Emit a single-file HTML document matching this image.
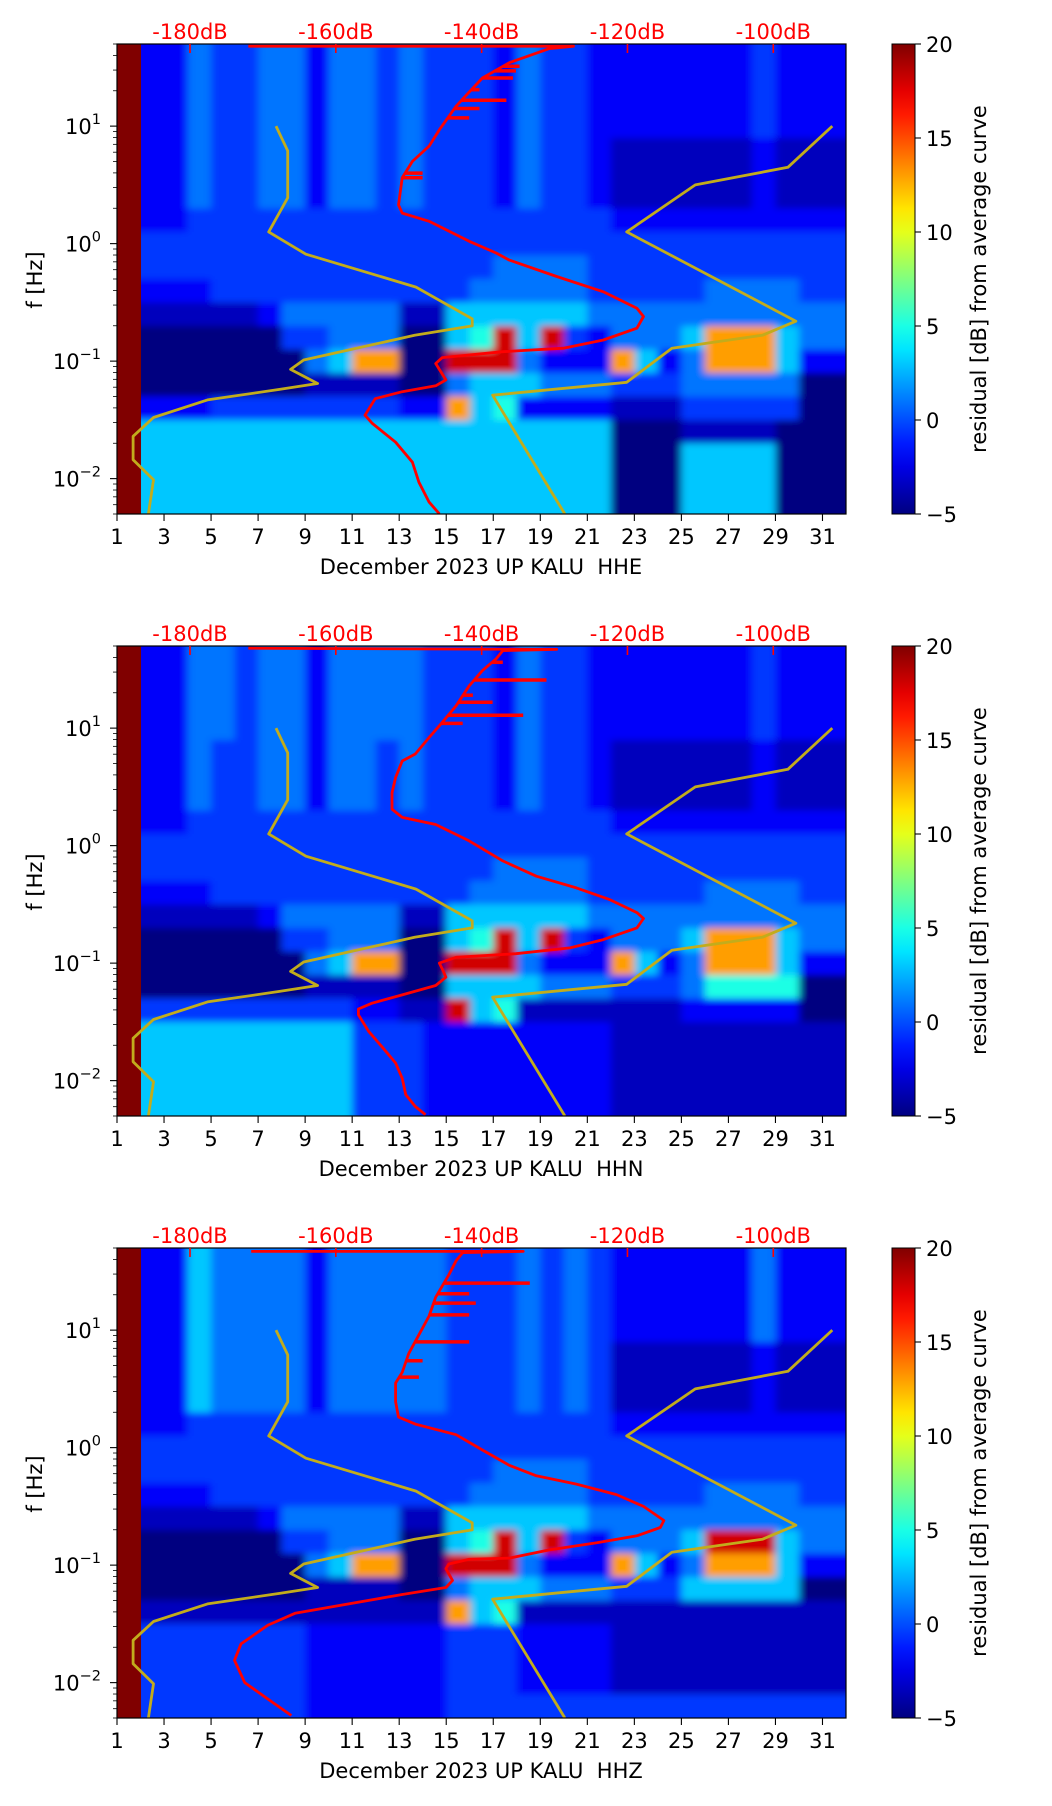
<!DOCTYPE html>
<html><head><meta charset="utf-8"><style>
html,body{margin:0;padding:0;background:#fff;}
svg{display:block;font-family:"DejaVu Sans","Liberation Sans",sans-serif;}
</style></head><body>
<svg id="fig" width="1052" height="1806" viewBox="0 0 1052 1806" xmlns="http://www.w3.org/2000/svg">
<rect x="0" y="0" width="1052" height="1806" fill="#fff"/>
</svg>
<script>
// ---------- data ----------
const panelNames = ["HHE", "HHN", "HHZ"];
const dayTicks = [1,3,5,7,9,11,13,15,17,19,21,23,25,27,29,31];
const dbTicks = [-180,-160,-140,-120,-100];
const dbTickLabels = ["-180dB","-160dB","-140dB","-120dB","-100dB"];
const decadeTicks = [1,0,-1,-2];
const decadeLabels = ["1","0","\u22121","\u22122"];
const cbTicks = [20,15,10,5,0,-5];
const cbTickLabels = ["20","15","10","5","0","\u22125"];
const levelValues = [-5,-3.5,-2,-0.5,1,3,5,9,13,18];

const heat1 = [
"X224334424434333243322222223222","X224334424434333243322222223222","X224334424434333243322222223222","X224334424434333243322222223222",
"X224334424434333243321111112111","X224334424434333243321111112111","X224334424434333243321111112111","X223333333333333333332222222222",
"X333333333333333333333333333333","X333333333333333444433333333333","X222333333333334444433333444433","X111112444441155555544444444444",
"X000000334440056959324445888544","X000000045880099942228524888522","X000000011110045554443334444400","X222333333332285622221113333300",
"X555555555555555555550001111000","X555555555555555555550005555000","X555555555555555555550005555000","X555555555555555555550005555000"];
const heat2 = [
"X224434424444333243322222223222","X224434424444333243322222223222","X224434424444333243322222223222","X224434424444333243322222223222",
"X224334424434333243321111112111","X224334424434333243321111112111","X224334424434333243321111112111","X223333333333333333332222222222",
"X333333333333333333333333333333","X333333333333333444433333333333","X222333333333334444433333444433","X111112444441155555544444444444",
"X000000334440056959324445888544","X000000045880099942228524888522","X000000011110055554443334666600","X333333333221195611111112222200",
"X555555555333222222221111111111","X555555555333222222221111111111","X555555555333222222221111111111","X555555555333222222221111111111"];
const heat3 = [
"X225444424444433343432222224222","X225444424444433343432222224222","X225444424444433343432222224222","X225444424444433343432222224222",
"X225444424444433343431111112111","X225444424444433343431111112111","X225444424444433343431111112111","X223333333333333333332222222222",
"X333333333333333333333333333333","X333333333333333444433333333333","X222333333333334444433333444433","X111112444441155555544444444444",
"X000000334440056959324445999544","X000000045880099942228524888522","X000000011110045554443335555500","X111111111111185611111111111111",
"X333333322222233322221111111111","X333333322222233322221111111111","X333333322222233322221111111111","X333333322222233333333333333333"];

// mean PSD curves (dB vs log10 f)
const red1Db = [-172.0,-127.4,-130.7,-136.2,-139.9,-141.7,-143.5,-145.8,-147.2,-149.5,-150.9,-151.4,-150.9,-147.2,-141.7,-138.0,-136.2,-129.7,-123.3,-118.7,-117.8,-118.7,-123.3,-128.8,-137.1,-145.4,-146.3,-144.9,-146.3,-150.9,-154.6,-156.0,-155.0,-151.8,-149.5,-148.6,-147.2,-145.8];
const red1Logf = [1.68,1.68,1.66,1.54,1.41,1.29,1.17,0.97,0.83,0.70,0.56,0.33,0.26,0.19,0.02,-0.08,-0.14,-0.28,-0.41,-0.55,-0.62,-0.72,-0.82,-0.89,-0.92,-0.97,-1.02,-1.16,-1.21,-1.26,-1.32,-1.46,-1.53,-1.69,-1.86,-2.03,-2.20,-2.30];
const spike1Logf = [1.51,1.47,1.41,1.31,1.22,1.15,1.07,0.60,0.56];
const spike1Db = [-134.8,-135.3,-135.7,-140.3,-136.6,-140.3,-141.7,-148.1,-148.1];

const red2Db = [-172.0,-129.7,-137.1,-138.0,-139.9,-141.7,-143.5,-145.4,-147.2,-149.1,-150.9,-151.8,-152.3,-152.3,-150.9,-146.3,-141.7,-137.1,-132.5,-127.0,-122.4,-118.7,-117.8,-118.7,-123.3,-127.9,-135.3,-143.5,-145.8,-145.4,-144.9,-146.3,-150.9,-155.0,-156.9,-156.9,-155.5,-153.7,-151.8,-150.9,-150.4,-149.1,-147.7];
const red2Logf = [1.68,1.67,1.66,1.59,1.49,1.36,1.19,1.05,0.92,0.78,0.72,0.58,0.45,0.31,0.24,0.18,0.04,-0.13,-0.26,-0.36,-0.46,-0.57,-0.62,-0.70,-0.80,-0.87,-0.92,-0.95,-1.00,-1.05,-1.12,-1.19,-1.27,-1.34,-1.39,-1.44,-1.58,-1.71,-1.85,-1.98,-2.12,-2.22,-2.29];
const spike2Logf = [1.56,1.41,1.28,1.22,1.11,1.04];
const spike2Db = [-137.1,-131.1,-141.2,-138.5,-134.3,-142.6];

const red3Db = [-171.6,-134.3,-142.6,-143.5,-144.5,-146.3,-147.2,-148.6,-150.0,-150.9,-151.8,-151.8,-151.4,-149.1,-143.5,-139.9,-136.2,-132.5,-127.0,-121.5,-117.8,-115.0,-115.5,-118.7,-124.2,-130.7,-136.2,-141.7,-144.5,-144.9,-144.0,-144.9,-150.9,-160.1,-165.6,-169.3,-173.0,-173.9,-172.5,-169.3,-166.1];
const red3Logf = [1.67,1.67,1.66,1.59,1.47,1.28,1.12,0.96,0.80,0.64,0.55,0.39,0.26,0.20,0.11,-0.02,-0.15,-0.24,-0.31,-0.40,-0.50,-0.62,-0.68,-0.75,-0.81,-0.87,-0.94,-0.95,-0.99,-1.03,-1.13,-1.19,-1.25,-1.35,-1.41,-1.51,-1.67,-1.81,-2.00,-2.14,-2.28];
const spike3Logf = [1.40,1.31,1.23,1.13,0.90,0.74,0.60];
const spike3Db = [-133.4,-141.7,-140.8,-141.7,-141.7,-148.1,-148.6];

// noise models (same in every panel)
const nlnmDb = [-168.2,-166.6,-166.6,-169.2,-164.1,-149.0,-141.3,-141.3,-149.2,-164.4,-166.2,-162.5,-167.6,-177.6,-185.0,-187.8,-187.8,-185.0,-185.7];
const nlnmLogf = [1.00,0.79,0.39,0.10,-0.09,-0.37,-0.64,-0.70,-0.78,-0.99,-1.07,-1.19,-1.24,-1.33,-1.48,-1.64,-1.84,-2.01,-2.30];
const nhnmDb = [-91.9,-98.0,-110.7,-120.1,-96.9,-101.5,-113.9,-120.1,-138.5,-128.6];
const nhnmLogf = [1.00,0.65,0.50,0.10,-0.66,-0.78,-0.89,-1.18,-1.29,-2.30];

// ---------- drawing ----------
const NS = "http://www.w3.org/2000/svg";
const svg = document.getElementById("fig");
const L = 117, R = 846, H = 470, LOGTOP = 1.699, DEC = 117.5;
const CBL = 892, CBR = 915, FS = 21;
function mk(tag, attrs, parent) {
  const e = document.createElementNS(NS, tag);
  for (const k in attrs) e.setAttribute(k, attrs[k]);
  (parent || svg).appendChild(e);
  return e;
}
function jet(v) {
  const t = Math.max(0, Math.min(1, (v + 5) / 25));
  const c = x => Math.round(255 * Math.max(0, Math.min(1, x)));
  return "rgb(" + c(1.5 - Math.abs(4*t - 3)) + "," + c(1.5 - Math.abs(4*t - 2)) + "," + c(1.5 - Math.abs(4*t - 1)) + ")";
}
function xDay(d) { return L + (d - 1) * (R - L) / 31; }
function xDb(db) { return 190 + (db + 180) * 7.291; }
function interpDb(dbs, lfs, lf) {
  for (let i = 0; i < lfs.length - 1; i++) {
    const a = lfs[i], b = lfs[i+1];
    if ((lf <= a && lf >= b) && a !== b) return dbs[i] + (dbs[i+1] - dbs[i]) * (lf - a) / (b - a);
  }
  return dbs[0];
}
const heats = [heat1, heat2, heat3];
const reds = [[red1Db, red1Logf], [red2Db, red2Logf], [red3Db, red3Logf]];
const spikes = [[spike1Db, spike1Logf], [spike2Db, spike2Logf], [spike3Db, spike3Logf]];

const defs = mk("defs", {});
const grad = mk("linearGradient", {id: "jetgrad", x1: "0", y1: "1", x2: "0", y2: "0"}, defs);
for (let i = 0; i <= 20; i++) {
  mk("stop", {offset: (i / 20).toFixed(3), "stop-color": jet(-5 + 25 * i / 20)}, grad);
}
const flt = mk("filter", {id: "soft", x: "-10%", y: "-10%", width: "120%", height: "120%"}, defs);
mk("feGaussianBlur", {stdDeviation: "4 3.5"}, flt);

for (let p = 0; p < 3; p++) {
  const T = 44 + 602 * p, B = T + H;
  const yLog = lf => T + (LOGTOP - lf) * DEC;
  const g = mk("g", {});
  
  
  const cp = mk("clipPath", {id: "clip" + p}, defs);
  mk("rect", {x: L, y: T, width: R - L, height: H}, cp);

  // heatmap
  const hmOuter = mk("g", {"clip-path": "url(#clip" + p + ")"}, g);
  
  
  const hm = mk("g", {filter: "url(#soft)"}, hmOuter);
  const rows = heats[p];
  const colW = (R - L) / 31;
  for (let r = 0; r < rows.length; r++) {
    let y0 = yLog(LOGTOP - 0.2 * r), y1 = yLog(LOGTOP - 0.2 * (r + 1));
    if (r === 0) y0 -= 25;
    if (r === rows.length - 1) y1 += 25;
    for (let c = 1; c < 31; c++) {
      const ch = rows[r][c] || "0";
      const v = levelValues[+ch];
      let x0 = xDay(1 + c), w = colW + 0.6;
      if (c === 1) { x0 -= colW; w += colW; }
      if (c === 30) w += 25;
      const cell = mk("rect", {x: x0.toFixed(2), y: y0.toFixed(2), width: w.toFixed(2), height: (y1 - y0 + 0.6).toFixed(2), fill: jet(v)}, hm);
      
      
    }
  }
  const c0 = mk("rect", {x: L, y: T, width: (xDay(2) - L + 0.5).toFixed(2), height: H, fill: jet(20)}, hmOuter);
  
  

  // curves
  const cg = mk("g", {"clip-path": "url(#clip" + p + ")", fill: "none", "stroke-linejoin": "round"}, g);
  const nl = mk("polyline", {points: nlnmDb.map((d, i) => xDb(d).toFixed(1) + "," + yLog(nlnmLogf[i]).toFixed(1)).join(" "), stroke: "#c2ac1c", "stroke-width": 2.8}, cg);
  
  
  const nh = mk("polyline", {points: nhnmDb.map((d, i) => xDb(d).toFixed(1) + "," + yLog(nhnmLogf[i]).toFixed(1)).join(" "), stroke: "#c2ac1c", "stroke-width": 2.8}, cg);
  
  
  const [rd, rl] = reds[p];
  const rc = mk("polyline", {points: rd.map((d, i) => xDb(d).toFixed(1) + "," + yLog(rl[i]).toFixed(1)).join(" "), stroke: "#ff0000", "stroke-width": 2.8}, cg);
  
  
  const [sd, sl] = spikes[p];
  for (let i = 0; i < sd.length; i++) {
    const y = yLog(sl[i]);
    const s = mk("line", {x1: xDb(interpDb(rd, rl, sl[i])).toFixed(1), y1: y.toFixed(1), x2: xDb(sd[i]).toFixed(1), y2: y.toFixed(1), stroke: "#ff0000", "stroke-width": 3.5}, cg);
    
    
  }

  // frame
  const fr = mk("rect", {x: L, y: T, width: R - L, height: H, fill: "none", stroke: "#000", "stroke-width": 1.2}, g);
  
  

  // x ticks
  for (let i = 0; i < dayTicks.length; i++) {
    const x = xDay(dayTicks[i]);
    const tk = mk("line", {x1: x, y1: B, x2: x, y2: B + 7, stroke: "#000", "stroke-width": 1.1}, g);
    
    
    const tl = mk("text", {x: x, y: B + 30, "text-anchor": "middle", "font-size": FS, fill: "#000"}, g);
    tl.textContent = String(dayTicks[i]);
    
    
  }
  const xl = mk("text", {x: 481, y: B + 60, "text-anchor": "middle", "font-size": FS, fill: "#000", style: "white-space:pre"}, g);
  xl.textContent = "December 2023 UP KALU  " + panelNames[p];
  
  

  // top dB axis
  for (let i = 0; i < dbTicks.length; i++) {
    const x = xDb(dbTicks[i]);
    const tk = mk("line", {x1: x, y1: T, x2: x, y2: T + 9, stroke: "#ff0000", "stroke-width": 1.6}, g);
    
    
    const tl = mk("text", {x: x, y: T - 5, "text-anchor": "middle", "font-size": FS, fill: "#ff0000"}, g);
    tl.textContent = dbTickLabels[i];
    
    
  }

  // y ticks
  for (let e = -3; e <= 1; e++) {
    for (let m = 1; m <= 9; m++) {
      const lf = e + Math.log10(m);
      if (lf < -2.302 || lf > 1.7) continue;
      const y = yLog(lf);
      const len = m === 1 ? 7 : 4;
      const tk = mk("line", {x1: L - len, y1: y.toFixed(2), x2: L, y2: y.toFixed(2), stroke: "#000", "stroke-width": m === 1 ? 1.1 : 0.8}, g);
      
      
    }
  }
  for (let i = 0; i < decadeTicks.length; i++) {
    const y = yLog(decadeTicks[i]);
    const tl = mk("text", {x: 101, y: y + 8, "text-anchor": "end", "font-size": FS, fill: "#000"}, g);
    const t1 = mk("tspan", {}, tl); t1.textContent = "10";
    const t2 = mk("tspan", {dy: -10, "font-size": 14.5}, tl); t2.textContent = decadeLabels[i];
    
    
  }
  const yl = mk("text", {transform: "translate(42," + (T + 236) + ") rotate(-90)", "text-anchor": "middle", "font-size": FS, fill: "#000"}, g);
  yl.textContent = "f [Hz]";
  
  

  // colorbar
  const cb = mk("rect", {x: CBL, y: T, width: CBR - CBL, height: H, fill: "url(#jetgrad)", stroke: "#000", "stroke-width": 1}, g);
  
  
  for (let i = 0; i < cbTicks.length; i++) {
    const y = T + (20 - cbTicks[i]) / 25 * H;
    const tk = mk("line", {x1: CBR, y1: y, x2: CBR + 6, y2: y, stroke: "#000", "stroke-width": 1.1}, g);
    
    
    const tl = mk("text", {x: CBR + 11, y: y + 8, "font-size": FS, fill: "#000"}, g);
    tl.textContent = cbTickLabels[i];
    
    
  }
  const cl = mk("text", {transform: "translate(986," + (T + 235) + ") rotate(-90)", "text-anchor": "middle", "font-size": FS, fill: "#000"}, g);
  cl.textContent = "residual [dB] from average curve";
  
  
}
</script>
</body></html>
